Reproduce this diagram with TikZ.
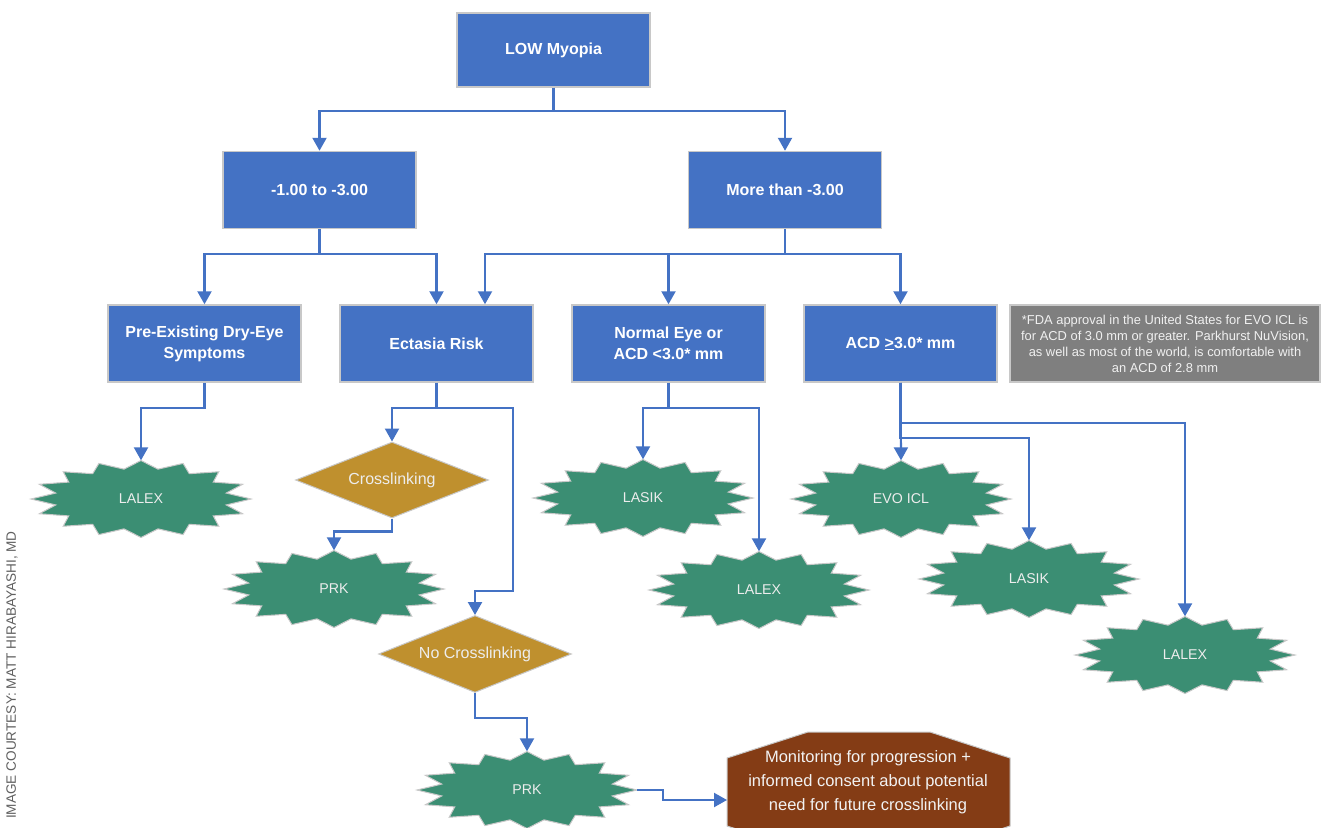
\documentclass[tikz,border=0pt]{standalone}
\usepackage{fontspec}
\setmainfont{Liberation Sans}
\usetikzlibrary{arrows.meta,shapes.geometric}
\definecolor{boxblue}{HTML}{4472C4}
\definecolor{burstgreen}{HTML}{3B8E73}
\definecolor{diagold}{HTML}{BF902E}
\definecolor{octbrown}{HTML}{843C15}
\definecolor{notegray}{HTML}{7F7F7F}
\definecolor{edgegray}{HTML}{C8C8C8}
\definecolor{conncol}{HTML}{4472C4}
\definecolor{credgray}{HTML}{606060}
\newcommand\burstshape[4]{%
  \filldraw[burstfill] plot[variable=\k, samples at={0,...,31}]
    ({#2+110*(1-0.21*mod(\k,2))*cos(\k*11.25)},{#3+38.5*(1-0.21*mod(\k,2))*sin(\k*11.25)}) -- cycle;
  \node[burstlabel] (#1) at (#2,#3) {#4};
}
\begin{document}
\begin{tikzpicture}[x=1pt,y=-1pt,
  bluebox/.style={rectangle, fill=boxblue, draw=edgegray, line width=1.5pt,
    minimum width=193pt, minimum height=77pt, inner sep=0pt, text=white,
    font=\fontsize{16}{21}\selectfont\bfseries, align=center},
  notebox/.style={rectangle, fill=notegray, draw=edgegray, line width=1.5pt,
    minimum width=310pt, minimum height=77pt, inner sep=0pt, text=white!94!black,
    font=\fontsize{12.9}{16}\selectfont, align=center},
  burstfill/.style={fill=burstgreen, draw=edgegray, line width=1pt, line join=miter},
  burstlabel/.style={ellipse, minimum width=220pt, minimum height=77pt, inner sep=0pt,
    text=white!93!black, font=\fontsize{14.2}{17}\selectfont},
  diamondbox/.style={diamond, aspect=2.57, fill=diagold, draw=edgegray, line width=1pt,
    minimum width=193pt, minimum height=76pt, inner sep=0pt, text=white!93!black,
    font=\fontsize{16}{20}\selectfont},
  octlabel/.style={align=center, text=white!95!black, font=\fontsize{16.5}{24}\selectfont},
  conn/.style={draw=conncol, line width=2.2pt, -{Triangle[length=13pt,width=14pt]}},
]
\useasboundingbox (0,0) rectangle (1324,827);
\clip (0,0) rectangle (1324,827);
\fill[white] (0,0) rectangle (1324,827);

% blue boxes
\node[bluebox, minimum height=74pt] (low) at (553.5,50) {LOW Myopia};
\node[bluebox] (m1) at (319.5,190) {-1.00 to -3.00};
\node[bluebox] (m2) at (785,190) {More than -3.00};
\node[bluebox] (dry) at (204.5,343.5) {Pre-Existing Dry-Eye\\Symptoms};
\node[bluebox] (ect) at (436.5,343.5) {Ectasia Risk};
\node[bluebox] (norm) at (668.5,343.5) {Normal Eye or\\ACD <3.0* mm};
\node[bluebox] (acd) at (900.5,343.5) {ACD \underline{>}3.0* mm};
\node[notebox] (note) at (1165,343.5) {*FDA approval in the United States for EVO ICL is\\for ACD of 3.0 mm or greater. Parkhurst NuVision,\\as well as most of the world, is comfortable with\\an ACD of 2.8 mm};

% bursts
\burstshape{lalex1}{141}{499}{LALEX}
\burstshape{prk1}{334}{589}{PRK}
\burstshape{prk2}{527}{790}{PRK}
\burstshape{lasik1}{643}{498}{LASIK}
\burstshape{lalex2}{759}{590}{LALEX}
\burstshape{evo}{901}{499}{EVO ICL}
\burstshape{lasik2}{1029}{579}{LASIK}
\burstshape{lalex3}{1185}{655}{LALEX}

% diamonds
\node[diamondbox] (cross) at (392,480) {Crosslinking};
\node[diamondbox, minimum height=77pt] (nocross) at (475,654) {No Crosslinking};

% octagon
\filldraw[fill=octbrown, draw=edgegray, line width=1pt]
  (727,758) -- (808,732) -- (930,732) -- (1010,758) -- (1010,826) -- (930,852) -- (808,852) -- (727,826) -- cycle;
\node[octlabel] (oct) at (868,782) {Monitoring for progression +\\informed consent about potential\\need for future crosslinking};
\coordinate (octin) at (727,800);

% credit
\node[rotate=90, text=credgray, font=\fontsize{13.6}{16}\selectfont] (credit) at (12,675) {IMAGE COURTESY: MATT HIRABAYASHI, MD};

% connectors
\draw[conn] (low.south) -- ++(0,23) -| (m1.north);
\draw[conn] (low.south) -- ++(0,23) -| (m2.north);
\draw[conn] (m1.south) -- ++(0,25) -| (dry.north);
\draw[conn] (m1.south) -- ++(0,25) -| (ect.north);
\draw[conn] (m2.south) -- ++(0,25) -| ([xshift=48.5pt]ect.north);
\draw[conn] (m2.south) -- ++(0,25) -| (norm.north);
\draw[conn] (m2.south) -- ++(0,25) -| (acd.north);

\draw[conn] (dry.south) -- ++(0,25) -| (lalex1.north);
\draw[conn] (ect.south) -- ++(0,25) -| (513,591) -| (nocross.north);
\draw[conn] (ect.south) -- ++(0,25) -| (cross.north);
\draw[conn] (cross.south) -- ++(0,13) -| (prk1.north);
\draw[conn] (nocross.south) -- ++(0,25) -| (prk2.north);
\draw[conn] (prk2.east) -- ++(26,0) |- (octin);

\draw[conn] (norm.south) -- ++(0,25) -| (lasik1.north);
\draw[conn] (norm.south) -- ++(0,25) -| (lalex2.north);
\draw[conn] (acd.south) -- (evo.north);
\draw[conn] (acd.south) -- ++(0,55) -| (lasik2.north);
\draw[conn] (acd.south) -- ++(0,40) -| (lalex3.north);
\end{tikzpicture}
\end{document}
